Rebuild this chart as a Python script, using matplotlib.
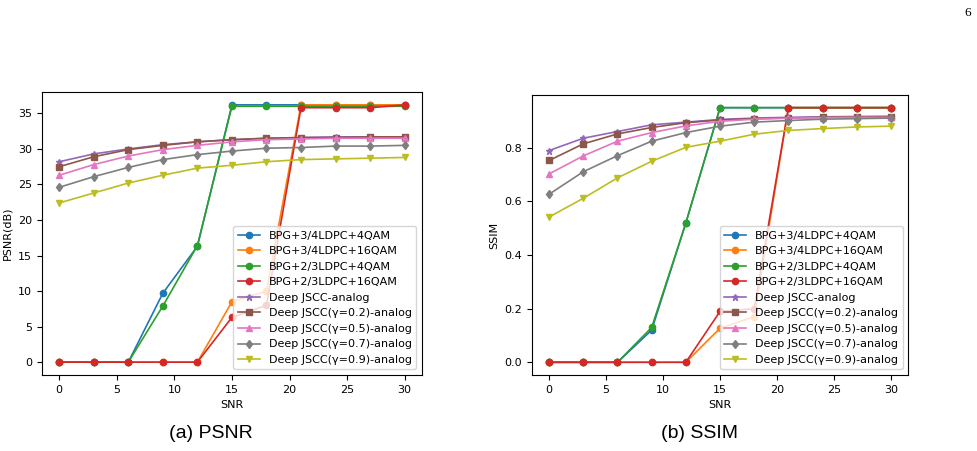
import matplotlib
matplotlib.use("Agg")
import matplotlib.pyplot as plt

snr = [0, 3, 6, 9, 12, 15, 18, 21, 24, 27, 30]

labels = [
    "BPG+3/4LDPC+4QAM",
    "BPG+3/4LDPC+16QAM",
    "BPG+2/3LDPC+4QAM",
    "BPG+2/3LDPC+16QAM",
    "Deep JSCC-analog",
    "Deep JSCC(γ=0.2)-analog",
    "Deep JSCC(γ=0.5)-analog",
    "Deep JSCC(γ=0.7)-analog",
    "Deep JSCC(γ=0.9)-analog",
]

# PSNR (dB)
psnr_bpg34_4qam = [0, 0, 0, 9.7, 16.3, 36.2, 36.2, 36.2, 36.2, 36.2, 36.2]
psnr_bpg34_16qam = [0, 0, 0, 0, 0, 8.5, 10.0, 36.2, 36.2, 36.2, 36.2]
psnr_bpg23_4qam = [0, 0, 0, 7.9, 16.4, 36.0, 36.0, 36.0, 36.0, 36.0, 36.0]
psnr_bpg23_16qam = [0, 0, 0, 0, 0, 6.3, 8.0, 35.8, 35.8, 35.8, 36.2]
psnr_jscc = [28.2, 29.3, 30.0, 30.6, 31.0, 31.3, 31.5, 31.6, 31.7, 31.7, 31.7]
psnr_g02 = [27.5, 28.9, 29.9, 30.5, 31.0, 31.3, 31.5, 31.6, 31.6, 31.7, 31.7]
psnr_g05 = [26.3, 27.8, 29.0, 29.9, 30.5, 31.0, 31.3, 31.4, 31.5, 31.5, 31.5]
psnr_g07 = [24.6, 26.1, 27.4, 28.5, 29.2, 29.7, 30.1, 30.2, 30.4, 30.4, 30.5]
psnr_g09 = [22.4, 23.8, 25.2, 26.3, 27.3, 27.7, 28.2, 28.5, 28.6, 28.7, 28.8]

# SSIM
ssim_bpg34_4qam = [0, 0, 0, 0.12, 0.52, 0.95, 0.95, 0.95, 0.95, 0.95, 0.95]
ssim_bpg34_16qam = [0, 0, 0, 0, 0, 0.127, 0.17, 0.95, 0.95, 0.95, 0.95]
ssim_bpg23_4qam = [0, 0, 0, 0.13, 0.52, 0.95, 0.95, 0.95, 0.95, 0.95, 0.95]
ssim_bpg23_16qam = [0, 0, 0, 0, 0, 0.19, 0.2, 0.95, 0.95, 0.95, 0.95]
ssim_jscc = [0.790, 0.836, 0.861, 0.886, 0.896, 0.906, 0.911, 0.914, 0.916, 0.917, 0.917]
ssim_g02 = [0.753, 0.815, 0.852, 0.876, 0.894, 0.904, 0.909, 0.911, 0.914, 0.916, 0.917]
ssim_g05 = [0.703, 0.770, 0.825, 0.857, 0.882, 0.899, 0.907, 0.911, 0.913, 0.914, 0.914]
ssim_g07 = [0.627, 0.711, 0.771, 0.825, 0.857, 0.881, 0.896, 0.902, 0.907, 0.909, 0.911]
ssim_g09 = [0.542, 0.612, 0.688, 0.750, 0.802, 0.825, 0.851, 0.865, 0.872, 0.878, 0.881]

markers = ["o", "o", "o", "o", "*", "s", "^", "d", "v"]
colors = ["C0", "C1", "C2", "C3", "C4", "C5", "C6", "C7", "C8"]

psnr_series = [psnr_bpg34_4qam, psnr_bpg34_16qam, psnr_bpg23_4qam, psnr_bpg23_16qam,
               psnr_jscc, psnr_g02, psnr_g05, psnr_g07, psnr_g09]
ssim_series = [ssim_bpg34_4qam, ssim_bpg34_16qam, ssim_bpg23_4qam, ssim_bpg23_16qam,
               ssim_jscc, ssim_g02, ssim_g05, ssim_g07, ssim_g09]

plt.rcParams["font.size"] = 8

fig = plt.figure(figsize=(9.78, 4.51), dpi=100)
ax1 = fig.add_axes([0.0429, 0.1685, 0.3885, 0.6275])
ax2 = fig.add_axes([0.544, 0.1685, 0.3845, 0.621])


def draw(ax, series, ylabel):
    for vals, lab, m, c in zip(series, labels, markers, colors):
        ms = 4.5
        if m == "*":
            ms = 5
        ax.plot(snr, vals, marker=m, color=c, label=lab, lw=1.2, ms=ms)
    ax.set_xlabel("SNR")
    ax.set_ylabel(ylabel)
    ax.set_xticks([0, 5, 10, 15, 20, 25, 30])
    ax.legend(loc="lower right", fontsize=8)


draw(ax1, psnr_series, "PSNR(dB)")
draw(ax2, ssim_series, "SSIM")

# captions and page number of the paper page
fig.text(211 / 978, 1 - 434 / 451, "(a) PSNR", ha="center", va="center",
         fontsize=14, family="Liberation Sans")
fig.text(700 / 978, 1 - 434 / 451, "(b) SSIM", ha="center", va="center",
         fontsize=14, family="Liberation Sans")
fig.text(968 / 978, 1 - 13 / 451, "6", ha="center", va="center",
         fontsize=9.5, family="Liberation Serif")

fig.savefig("out.png", dpi=100)
